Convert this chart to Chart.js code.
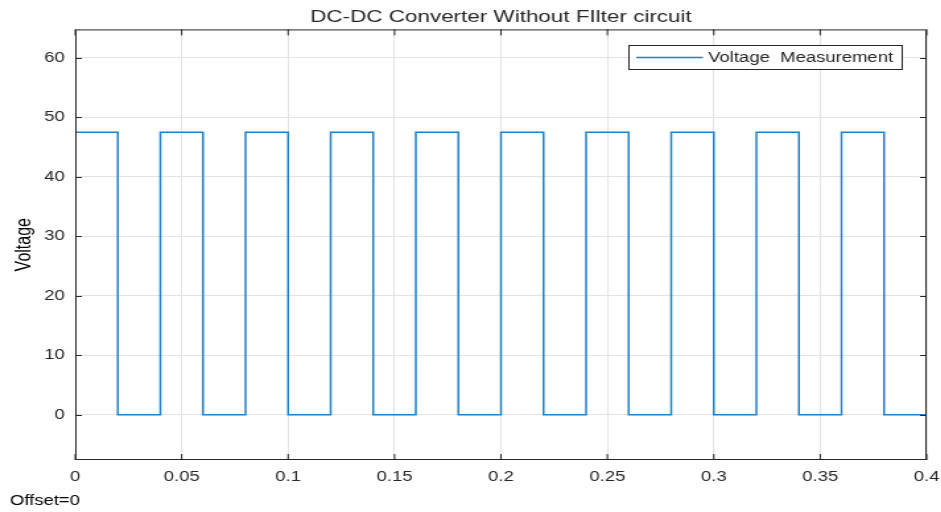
<!DOCTYPE html>
<html lang="en">
<head>
  <meta charset="UTF-8" />
  <title>DC-DC Converter Without FIlter circuit</title>
  <script src="https://cdn.jsdelivr.net/npm/chart.js"></script>
  <style>
    body {
      margin: 0;
      background: #fff;
      overflow: hidden;
    }
    /* the scope export is stretched sideways, so draw narrow and widen it */
    .stretch {
      width: 713px;
      height: 512px;
      transform: scaleX(1.32);
      transform-origin: 0 0;
    }
  </style>
</head>
<body>
  <div class="stretch">
    <canvas id="scopeChart" width="713" height="512"></canvas>
  </div>

  <script>
    // switching instants (s) and output voltage held from each instant to the next
    const time = [0, 0.02, 0.04, 0.06, 0.08, 0.10, 0.12, 0.14, 0.16, 0.18, 0.20,
                  0.22, 0.24, 0.26, 0.28, 0.30, 0.32, 0.34, 0.36, 0.38, 0.40];
    const voltage = [47.5, 0, 47.5, 0, 47.5, 0, 47.5, 0, 47.5, 0, 47.5,
                     0, 47.5, 0, 47.5, 0, 47.5, 0, 47.5, 0, 0];
    const xTicks = [0, 0.05, 0.1, 0.15, 0.2, 0.25, 0.3, 0.35, 0.4];
    const yTicks = [0, 10, 20, 30, 40, 50, 60];

    const FONT = "'Liberation Sans', Arial, sans-serif";
    const AXIS = '#262626';

    const points = time.map((t, i) => ({ x: t, y: voltage[i] }));

    // box round the axes, inward ticks, legend box and footer text
    const scopeFrame = {
      id: 'scopeFrame',
      afterDatasetsDraw(chart) {
        const { ctx, chartArea: a, scales } = chart;
        ctx.save();
        ctx.strokeStyle = AXIS;
        ctx.lineWidth = 1;
        ctx.strokeRect(a.left + 0.5, a.top + 0.5, a.right - a.left - 1, a.bottom - a.top - 1);

        ctx.beginPath();
        xTicks.forEach(v => {
          const px = scales.x.getPixelForValue(v);
          ctx.moveTo(px, a.bottom); ctx.lineTo(px, a.bottom - 6);
          ctx.moveTo(px, a.top); ctx.lineTo(px, a.top + 6);
        });
        yTicks.forEach(v => {
          const py = Math.round(scales.y.getPixelForValue(v)) + 0.5;
          ctx.moveTo(a.left, py); ctx.lineTo(a.left + 5, py);
          ctx.moveTo(a.right, py); ctx.lineTo(a.right - 5, py);
        });
        ctx.stroke();

        // legend
        const ds = chart.data.datasets[0];
        ctx.fillStyle = '#fff';
        ctx.fillRect(476.5, 45.5, 207, 24);
        ctx.strokeStyle = AXIS;
        ctx.strokeRect(476.5, 45.5, 207, 24);
        ctx.strokeStyle = ds.borderColor;
        ctx.lineWidth = 1.5;
        ctx.beginPath();
        ctx.moveTo(482, 57.5); ctx.lineTo(532.5, 57.5);
        ctx.stroke();
        ctx.fillStyle = AXIS;
        ctx.font = '14px ' + FONT;
        ctx.textBaseline = 'middle';
        ctx.fillText(ds.label, 536.5, 58);

        ctx.fillStyle = '#000';
        ctx.fillText('Offset=0', 7.5, 501);
        ctx.restore();
      }
    };

    const ctx = document.getElementById('scopeChart').getContext('2d');
    const scopeChart = new Chart(ctx, {
      type: 'line',
      data: {
        datasets: [{
          label: 'Voltage  Measurement',
          data: points,
          stepped: true,
          borderColor: '#1f80c8',
          borderWidth: 1.5,
          pointRadius: 0,
          fill: false
        }]
      },
      options: {
        responsive: false,
        animation: false,
        layout: { padding: { left: 0, right: 11, top: 0, bottom: 0 } },
        plugins: {
          legend: { display: false },
          tooltip: { enabled: false },
          title: {
            display: true,
            fullSize: false,
            text: 'DC-DC Converter Without FIlter circuit',
            color: AXIS,
            font: { family: FONT, size: 17, weight: 'normal' },
            padding: { top: 7, bottom: 2 }
          }
        },
        scales: {
          x: {
            type: 'linear',
            min: 0,
            max: 0.4,
            afterBuildTicks: s => { s.ticks = xTicks.map(v => ({ value: v })); },
            afterFit: s => { s.height = 52; s.paddingLeft = 0; s.paddingRight = 0; },
            ticks: {
              color: AXIS,
              padding: 9,
              autoSkip: false,
              maxRotation: 0,
              minRotation: 0,
              font: { family: FONT, size: 14 },
              callback: v => String(v)
            },
            grid: { color: '#e3e3e3', drawTicks: false },
            border: { display: false }
          },
          y: {
            min: -7.6,
            max: 64.8,
            afterBuildTicks: s => { s.ticks = yTicks.map(v => ({ value: v })); },
            afterFit: s => { s.width = 57; },
            ticks: {
              color: AXIS,
              padding: 8,
              autoSkip: false,
              font: { family: FONT, size: 14 }
            },
            grid: { color: '#e3e3e3', drawTicks: false },
            border: { display: false },
            title: {
              display: true,
              text: 'Voltage',
              color: '#000',
              font: { family: FONT, size: 16 },
              padding: { top: 9, bottom: 0 }
            }
          }
        }
      },
      plugins: [scopeFrame]
    });
  </script>
</body>
</html>
